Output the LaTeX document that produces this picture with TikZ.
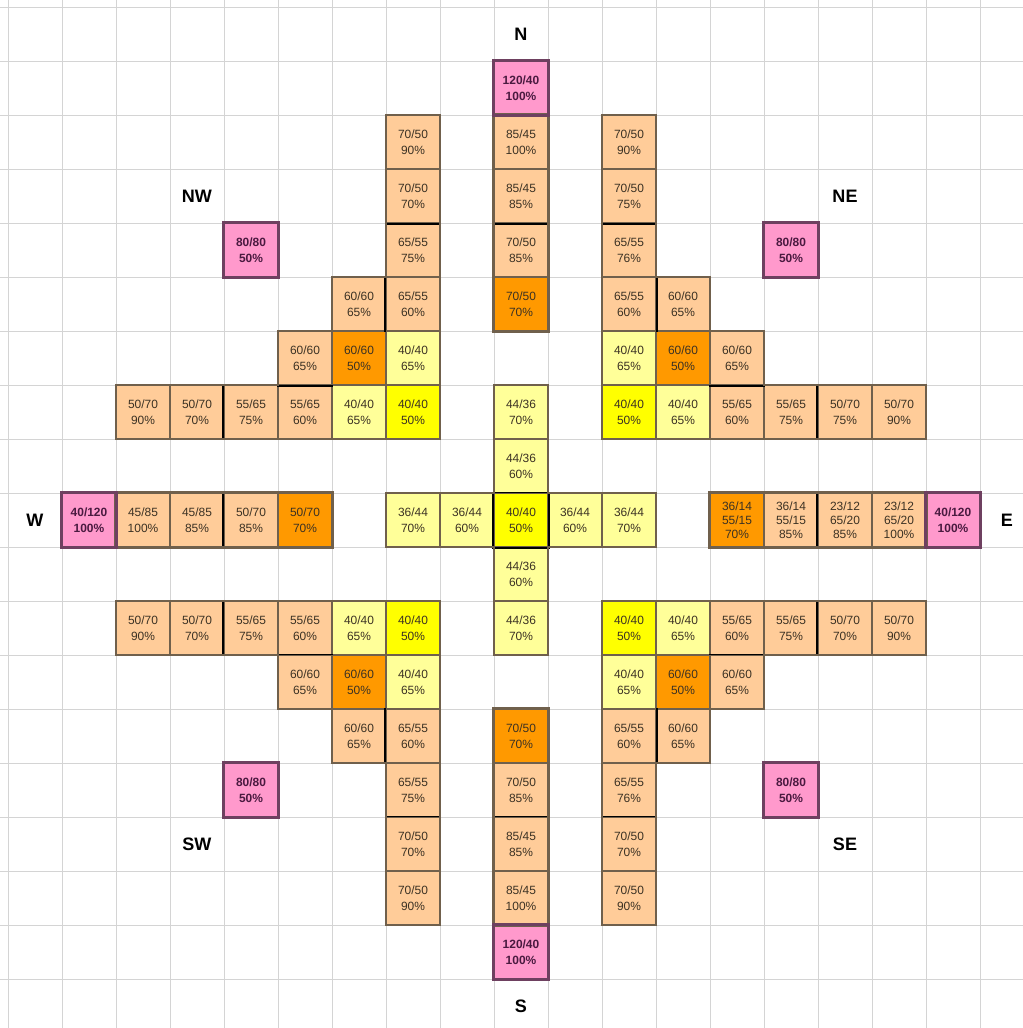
\documentclass[tikz,border=0pt]{standalone}
\usepackage{fontspec}
\setmainfont{Liberation Sans}
\usepackage{tikz}
\usetikzlibrary{positioning}

\definecolor{peachfill}{RGB}{255,204,153}
\definecolor{orangefill}{RGB}{255,153,0}
\definecolor{lyelfill}{RGB}{255,255,153}
\definecolor{yelfill}{RGB}{255,255,0}
\definecolor{pinkfill}{RGB}{255,153,204}
\definecolor{edgebrown}{RGB}{112,96,76}
\definecolor{edgepink}{RGB}{110,64,96}
\definecolor{gridgray}{RGB}{212,212,212}
\definecolor{celltext}{RGB}{60,50,36}
\definecolor{pinktext}{RGB}{74,26,64}

\begin{document}
\begin{tikzpicture}[
    cellbox/.style={minimum size=1cm, inner sep=0pt, align=center,
      draw=edgebrown, line width=0.6pt, text=celltext,
      font=\fontsize{6.3}{8.4}\selectfont},
    peach/.style={cellbox, fill=peachfill},
    orng/.style={cellbox, fill=orangefill},
    lyel/.style={cellbox, fill=lyelfill},
    yel/.style={cellbox, fill=yelfill},
    pinkc/.style={cellbox, fill=pinkfill, draw=edgepink, text=pinktext,
      font=\fontsize{6.3}{8.4}\selectfont\bfseries},
    threeline/.style={font=\fontsize{6.3}{7.4}\selectfont},
    dirlabel/.style={font=\fontsize{9.5}{10}\selectfont\bfseries, text=black},
    outline/.style={draw=edgebrown, line width=1.4pt},
    pinkline/.style={draw=edgepink, line width=1.3pt},
    sepline/.style={draw=black, line width=1pt}
  ]
  \fill[white] (-0.148,0.13) rectangle (18.796,-18.907);
  \useasboundingbox (-0.148,0.13) rectangle (18.796,-18.907);
  \draw[gridgray, line width=0.5pt, step=1cm] (-0.148,0.13) grid (18.796,-18.907);

  % compass labels
  \node[dirlabel] (dirN) at (9.5,-0.5) {N};
  \node[dirlabel] (dirS) at (9.5,-18.5) {S};
  \node[dirlabel] (dirW) at (0.5,-9.5) {W};
  \node[dirlabel] (dirE) at (18.5,-9.5) {E};
  \node[dirlabel] (dirNW) at (3.5,-3.5) {NW};
  \node[dirlabel] (dirNE) at (15.5,-3.5) {NE};
  \node[dirlabel] (dirSW) at (3.5,-15.5) {SW};
  \node[dirlabel] (dirSE) at (15.5,-15.5) {SE};

  % north arm
  \node[pinkc] (c9r1) at (9.5,-1.5) {120/40\\100\%};
  \node[peach] (c7r2) at (7.5,-2.5) {70/50\\90\%};
  \node[peach] (c9r2) at (9.5,-2.5) {85/45\\100\%};
  \node[peach] (c11r2) at (11.5,-2.5) {70/50\\90\%};
  \node[peach] (c7r3) at (7.5,-3.5) {70/50\\70\%};
  \node[peach] (c9r3) at (9.5,-3.5) {85/45\\85\%};
  \node[peach] (c11r3) at (11.5,-3.5) {70/50\\75\%};
  \node[pinkc] (c4r4) at (4.5,-4.5) {80/80\\50\%};
  \node[peach] (c7r4) at (7.5,-4.5) {65/55\\75\%};
  \node[peach] (c9r4) at (9.5,-4.5) {70/50\\85\%};
  \node[peach] (c11r4) at (11.5,-4.5) {65/55\\76\%};
  \node[pinkc] (c14r4) at (14.5,-4.5) {80/80\\50\%};
  \node[peach] (c6r5) at (6.5,-5.5) {60/60\\65\%};
  \node[peach] (c7r5) at (7.5,-5.5) {65/55\\60\%};
  \node[orng] (c9r5) at (9.5,-5.5) {70/50\\70\%};
  \node[peach] (c11r5) at (11.5,-5.5) {65/55\\60\%};
  \node[peach] (c12r5) at (12.5,-5.5) {60/60\\65\%};
  \node[peach] (c5r6) at (5.5,-6.5) {60/60\\65\%};
  \node[orng] (c6r6) at (6.5,-6.5) {60/60\\50\%};
  \node[lyel] (c7r6) at (7.5,-6.5) {40/40\\65\%};
  \node[lyel] (c11r6) at (11.5,-6.5) {40/40\\65\%};
  \node[orng] (c12r6) at (12.5,-6.5) {60/60\\50\%};
  \node[peach] (c13r6) at (13.5,-6.5) {60/60\\65\%};
  \node[peach] (c2r7) at (2.5,-7.5) {50/70\\90\%};
  \node[peach] (c3r7) at (3.5,-7.5) {50/70\\70\%};
  \node[peach] (c4r7) at (4.5,-7.5) {55/65\\75\%};
  \node[peach] (c5r7) at (5.5,-7.5) {55/65\\60\%};
  \node[lyel] (c6r7) at (6.5,-7.5) {40/40\\65\%};
  \node[yel] (c7r7) at (7.5,-7.5) {40/40\\50\%};
  \node[lyel] (c9r7) at (9.5,-7.5) {44/36\\70\%};
  \node[yel] (c11r7) at (11.5,-7.5) {40/40\\50\%};
  \node[lyel] (c12r7) at (12.5,-7.5) {40/40\\65\%};
  \node[peach] (c13r7) at (13.5,-7.5) {55/65\\60\%};
  \node[peach] (c14r7) at (14.5,-7.5) {55/65\\75\%};
  \node[peach] (c15r7) at (15.5,-7.5) {50/70\\75\%};
  \node[peach] (c16r7) at (16.5,-7.5) {50/70\\90\%};
  \node[lyel] (c9r8) at (9.5,-8.5) {44/36\\60\%};

  % middle row
  \node[pinkc] (c1r9) at (1.5,-9.5) {40/120\\100\%};
  \node[peach] (c2r9) at (2.5,-9.5) {45/85\\100\%};
  \node[peach] (c3r9) at (3.5,-9.5) {45/85\\85\%};
  \node[peach] (c4r9) at (4.5,-9.5) {50/70\\85\%};
  \node[orng] (c5r9) at (5.5,-9.5) {50/70\\70\%};
  \node[lyel] (c7r9) at (7.5,-9.5) {36/44\\70\%};
  \node[lyel] (c8r9) at (8.5,-9.5) {36/44\\60\%};
  \node[yel] (c9r9) at (9.5,-9.5) {40/40\\50\%};
  \node[lyel] (c10r9) at (10.5,-9.5) {36/44\\60\%};
  \node[lyel] (c11r9) at (11.5,-9.5) {36/44\\70\%};
  \node[orng, threeline] (c13r9) at (13.5,-9.5) {36/14\\55/15\\70\%};
  \node[peach, threeline] (c14r9) at (14.5,-9.5) {36/14\\55/15\\85\%};
  \node[peach, threeline] (c15r9) at (15.5,-9.5) {23/12\\65/20\\85\%};
  \node[peach, threeline] (c16r9) at (16.5,-9.5) {23/12\\65/20\\100\%};
  \node[pinkc] (c17r9) at (17.5,-9.5) {40/120\\100\%};

  % south arm
  \node[lyel] (c9r10) at (9.5,-10.5) {44/36\\60\%};
  \node[peach] (c2r11) at (2.5,-11.5) {50/70\\90\%};
  \node[peach] (c3r11) at (3.5,-11.5) {50/70\\70\%};
  \node[peach] (c4r11) at (4.5,-11.5) {55/65\\75\%};
  \node[peach] (c5r11) at (5.5,-11.5) {55/65\\60\%};
  \node[lyel] (c6r11) at (6.5,-11.5) {40/40\\65\%};
  \node[yel] (c7r11) at (7.5,-11.5) {40/40\\50\%};
  \node[lyel] (c9r11) at (9.5,-11.5) {44/36\\70\%};
  \node[yel] (c11r11) at (11.5,-11.5) {40/40\\50\%};
  \node[lyel] (c12r11) at (12.5,-11.5) {40/40\\65\%};
  \node[peach] (c13r11) at (13.5,-11.5) {55/65\\60\%};
  \node[peach] (c14r11) at (14.5,-11.5) {55/65\\75\%};
  \node[peach] (c15r11) at (15.5,-11.5) {50/70\\70\%};
  \node[peach] (c16r11) at (16.5,-11.5) {50/70\\90\%};
  \node[peach] (c5r12) at (5.5,-12.5) {60/60\\65\%};
  \node[orng] (c6r12) at (6.5,-12.5) {60/60\\50\%};
  \node[lyel] (c7r12) at (7.5,-12.5) {40/40\\65\%};
  \node[lyel] (c11r12) at (11.5,-12.5) {40/40\\65\%};
  \node[orng] (c12r12) at (12.5,-12.5) {60/60\\50\%};
  \node[peach] (c13r12) at (13.5,-12.5) {60/60\\65\%};
  \node[peach] (c6r13) at (6.5,-13.5) {60/60\\65\%};
  \node[peach] (c7r13) at (7.5,-13.5) {65/55\\60\%};
  \node[orng] (c9r13) at (9.5,-13.5) {70/50\\70\%};
  \node[peach] (c11r13) at (11.5,-13.5) {65/55\\60\%};
  \node[peach] (c12r13) at (12.5,-13.5) {60/60\\65\%};
  \node[pinkc] (c4r14) at (4.5,-14.5) {80/80\\50\%};
  \node[peach] (c7r14) at (7.5,-14.5) {65/55\\75\%};
  \node[peach] (c9r14) at (9.5,-14.5) {70/50\\85\%};
  \node[peach] (c11r14) at (11.5,-14.5) {65/55\\76\%};
  \node[pinkc] (c14r14) at (14.5,-14.5) {80/80\\50\%};
  \node[peach] (c7r15) at (7.5,-15.5) {70/50\\70\%};
  \node[peach] (c9r15) at (9.5,-15.5) {85/45\\85\%};
  \node[peach] (c11r15) at (11.5,-15.5) {70/50\\70\%};
  \node[peach] (c7r16) at (7.5,-16.5) {70/50\\90\%};
  \node[peach] (c9r16) at (9.5,-16.5) {85/45\\100\%};
  \node[peach] (c11r16) at (11.5,-16.5) {70/50\\90\%};
  \node[pinkc] (c9r17) at (9.5,-17.5) {120/40\\100\%};

  % black separators
  \draw[sepline] (c7r3.south west) -- (c7r3.south east);
  \draw[sepline] (c9r3.south west) -- (c9r3.south east);
  \draw[sepline] (c11r3.south west) -- (c11r3.south east);
  \draw[sepline] (c7r5.north west) -- (c7r5.south west);
  \draw[sepline] (c11r5.north east) -- (c11r5.south east);
  \draw[sepline] (c5r6.south west) -- (c5r6.south east);
  \draw[sepline] (c13r6.south west) -- (c13r6.south east);
  \draw[sepline] (c4r7.north west) -- (c4r7.south west);
  \draw[sepline] (c15r7.north west) -- (c15r7.south west);
  \draw[sepline] (c4r9.north west) -- (c4r9.south west);
  \draw[sepline] (c15r9.north west) -- (c15r9.south west);
  \draw[sepline] (c9r9.north west) rectangle (c9r9.south east);
  \draw[sepline] (c4r11.north west) -- (c4r11.south west);
  \draw[sepline] (c15r11.north west) -- (c15r11.south west);
  \draw[sepline] (c5r12.north west) -- (c5r12.north east);
  \draw[sepline] (c13r12.north west) -- (c13r12.north east);
  \draw[sepline] (c7r13.north west) -- (c7r13.south west);
  \draw[sepline] (c11r13.north east) -- (c11r13.south east);
  \draw[sepline] (c7r15.north west) -- (c7r15.north east);
  \draw[sepline] (c9r15.north west) -- (c9r15.north east);
  \draw[sepline] (c11r15.north west) -- (c11r15.north east);

  % group outlines
  \draw[outline] (7,-2) -- (8,-2) -- (8,-8) -- (2,-8) -- (2,-7) -- (5,-7)
    -- (5,-6) -- (6,-6) -- (6,-5) -- (7,-5) -- cycle;
  \draw[outline] (11,-2) -- (12,-2) -- (12,-5) -- (13,-5) -- (13,-6) -- (14,-6)
    -- (14,-7) -- (17,-7) -- (17,-8) -- (11,-8) -- cycle;
  \draw[outline] (2,-11) -- (8,-11) -- (8,-17) -- (7,-17) -- (7,-14) -- (6,-14)
    -- (6,-13) -- (5,-13) -- (5,-12) -- (2,-12) -- cycle;
  \draw[outline] (11,-11) -- (17,-11) -- (17,-12) -- (14,-12) -- (14,-13)
    -- (13,-13) -- (13,-14) -- (12,-14) -- (12,-17) -- (11,-17) -- cycle;
  \draw[outline] (9,-7) -- (10,-7) -- (10,-9) -- (12,-9) -- (12,-10) -- (10,-10)
    -- (10,-12) -- (9,-12) -- (9,-10) -- (7,-10) -- (7,-9) -- (9,-9) -- cycle;
  \draw[outline] (c9r2.north west) rectangle (c9r5.south east);
  \draw[outline] (c9r13.north west) rectangle (c9r16.south east);
  \draw[outline] (c2r9.north west) rectangle (c5r9.south east);
  \draw[outline] (c13r9.north west) rectangle (c16r9.south east);
  \draw[pinkline] (c9r1.north west) rectangle (c9r1.south east);
  \draw[pinkline] (c9r17.north west) rectangle (c9r17.south east);
  \draw[pinkline] (c1r9.north west) rectangle (c1r9.south east);
  \draw[pinkline] (c17r9.north west) rectangle (c17r9.south east);
  \draw[pinkline] (c4r4.north west) rectangle (c4r4.south east);
  \draw[pinkline] (c14r4.north west) rectangle (c14r4.south east);
  \draw[pinkline] (c4r14.north west) rectangle (c4r14.south east);
  \draw[pinkline] (c14r14.north west) rectangle (c14r14.south east);
\end{tikzpicture}
\end{document}
